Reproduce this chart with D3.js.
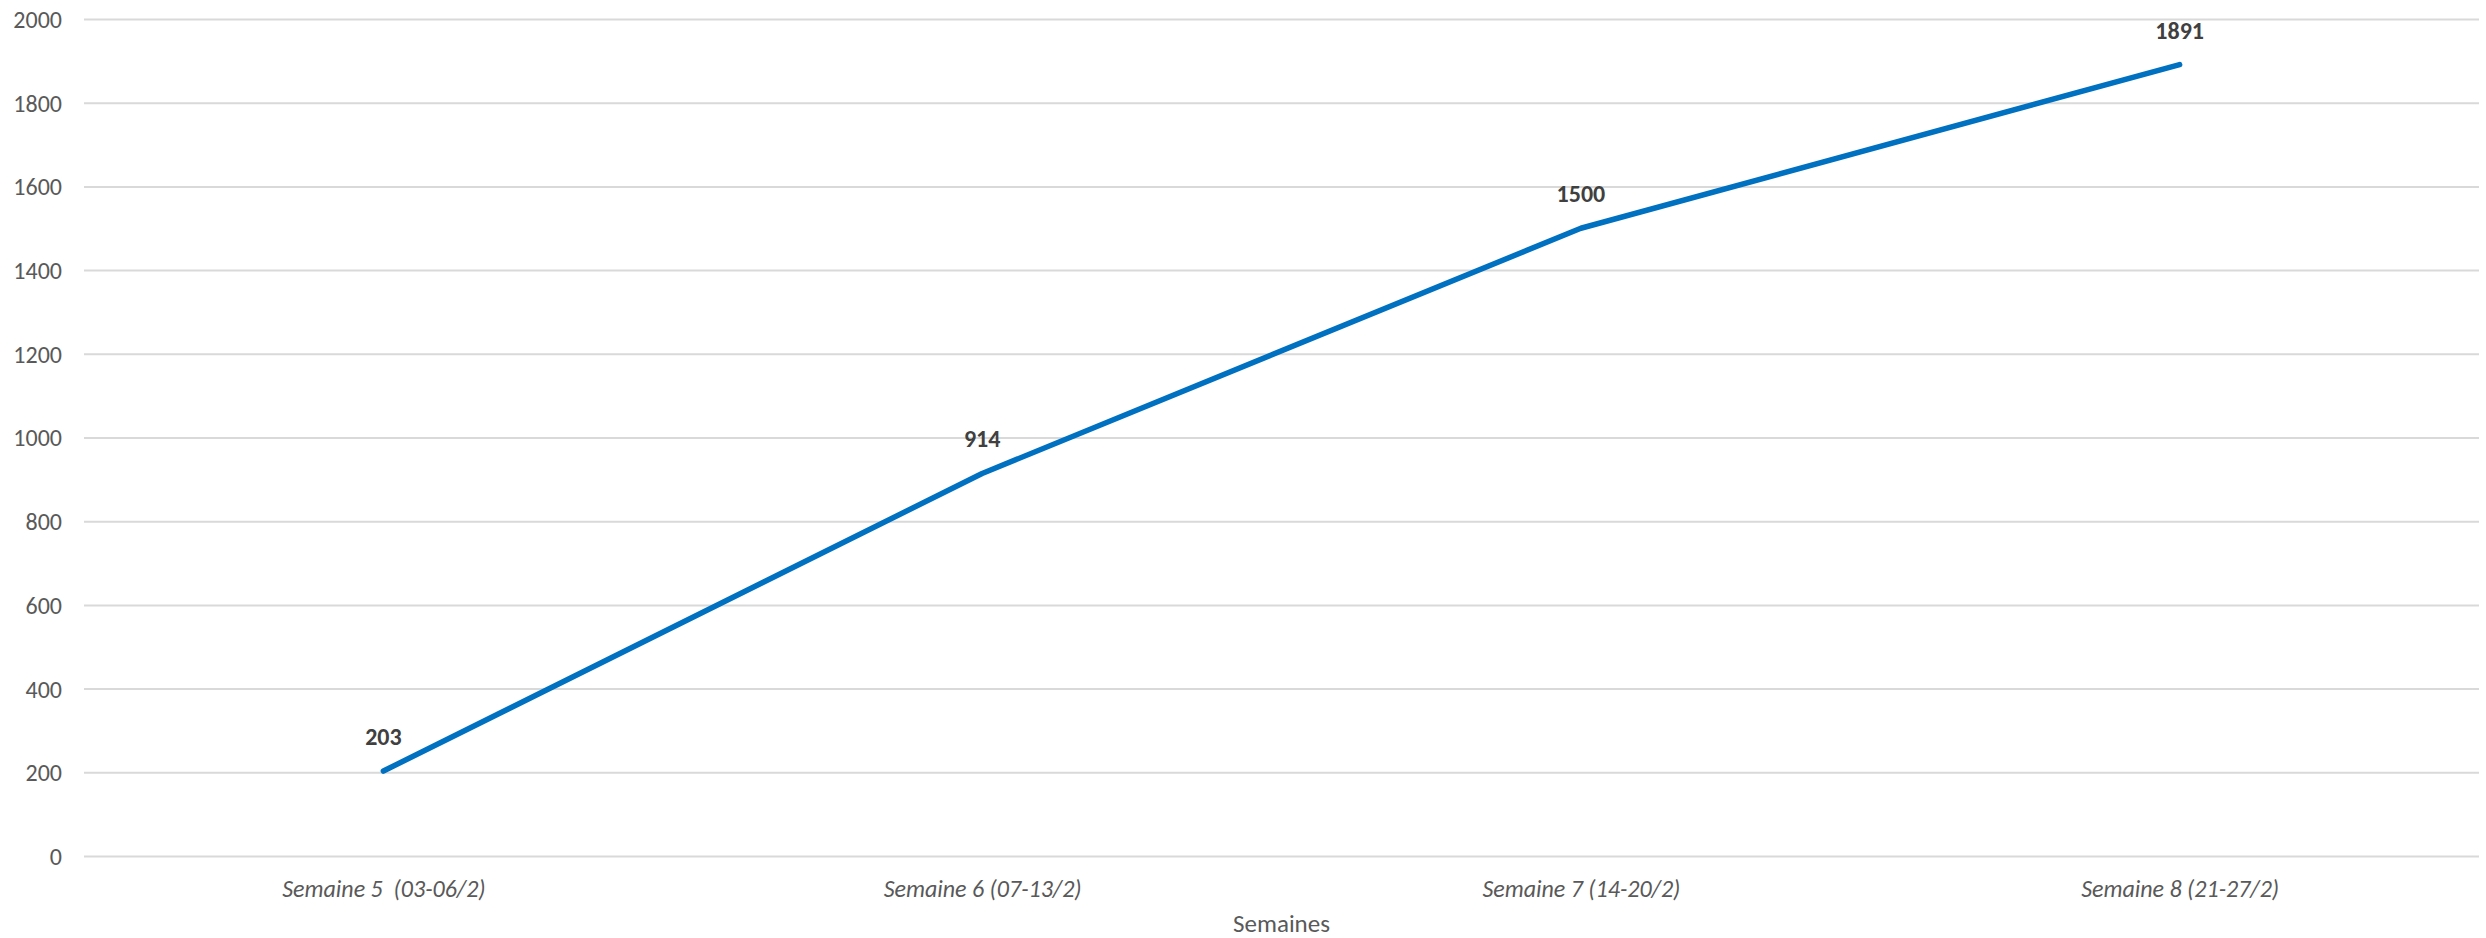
<!DOCTYPE html>
<html><head><meta charset="utf-8">
<script src="https://cdn.jsdelivr.net/npm/d3@7/dist/d3.min.js"></script>
<style>body{margin:0;background:#fff;}svg{display:block;}</style>
</head><body><svg id="c" width="2486" height="938"></svg>
<script>
const categories = ["Semaine 5  (03-06/2)", "Semaine 6 (07-13/2)", "Semaine 7 (14-20/2)", "Semaine 8 (21-27/2)"];
const values = [203, 914, 1500, 1891];
const yTicks = [0, 200, 400, 600, 800, 1000, 1200, 1400, 1600, 1800, 2000];
const xTitle = "Semaines";

(function () {
const svg = d3.select("#c");
const font = "Carlito, Calibri, Lato, sans-serif";
const mLeft = 84, mRight = 2479, mTop = 19, mBottom = 856;

const x = d3.scalePoint().domain(categories).range([mLeft, mRight]).padding(0.5);
const y = d3.scaleLinear().domain([0, 2000]).range([mBottom, mTop]);

const yAxis = d3.axisLeft(y).tickValues(yTicks).tickSize(-(mRight - mLeft)).tickPadding(22).tickFormat(d3.format("d"));
const gy = svg.append("g").attr("transform", `translate(${mLeft},0)`).call(yAxis);
gy.select(".domain").remove();
gy.selectAll(".tick line").attr("stroke", "#d9d9d9").attr("stroke-width", 2);
gy.selectAll(".tick text").attr("fill", "#595959").style("font-family", font).style("font-size", "24px").attr("dy", "0.35em");

const xAxis = d3.axisBottom(x).tickSize(0).tickPadding(24);
const gx = svg.append("g").attr("transform", `translate(0,${mBottom})`).call(xAxis);
gx.select(".domain").remove();
gx.selectAll(".tick text").attr("fill", "#595959").style("font-family", font).style("font-size", "24px").style("font-style", "italic").style("white-space", "pre");

svg.append("text").attr("x", (mLeft + mRight) / 2).attr("y", 932).attr("text-anchor", "middle")
  .attr("fill", "#595959").style("font-family", font).style("font-size", "25px").text(xTitle);

const line = d3.line().x((d, i) => x(categories[i])).y(d => y(d));
svg.append("path").datum(values).attr("d", line).attr("fill", "none")
  .attr("stroke", "#0070C0").attr("stroke-width", 5.5).attr("stroke-linecap", "round").attr("stroke-linejoin", "round");

svg.selectAll(".lbl").data(values).enter().append("text").attr("class", "lbl")
  .attr("x", (d, i) => x(categories[i])).attr("y", d => y(d) - 26).attr("text-anchor", "middle")
  .attr("fill", "#404040").style("font-family", font).style("font-size", "24px").style("font-weight", "bold")
  .text(d => d);
})();
</script></body></html>
